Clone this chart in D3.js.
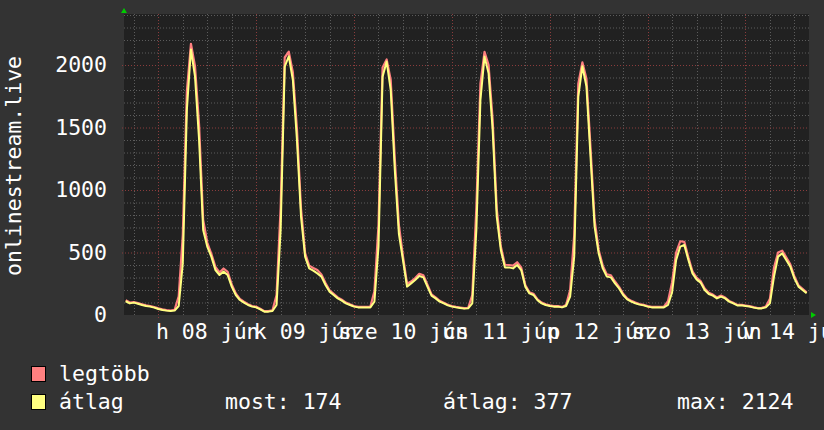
<!DOCTYPE html>
<html>
<head>
<meta charset="utf-8">
<script src="https://cdn.jsdelivr.net/npm/d3@7"></script>
<style>
  body { margin: 0; background: #333333; }
  svg { display: block; }
  text { font-family: "DejaVu Sans Mono", monospace; font-size: 21.5px; fill: #ffffff; }
</style>
</head>
<body>
<svg width="824" height="430"></svg>
<script>
// hourly values, 2020-06-07 16:00 .. 2020-06-14 15:00 (UTC)
const atlag = [
  110, 93, 99, 90, 80, 72, 67, 59,
  48, 40, 35, 32, 35, 72, 413, 1640, 2124, 1907, 1400, 680, 547, 467, 360, 320, 347, 320, 227, 160, 120, 99, 80, 67,
  61, 45, 27, 27, 32, 80, 680, 1987, 2070, 1880, 1400, 787, 467, 373, 355, 333, 307, 240, 187, 160, 133, 115, 93, 80,
  67, 61, 61, 61, 61, 107, 547, 1907, 2027, 1800, 1160, 650, 440, 227, 253, 280, 312, 301, 227, 155, 133, 107, 93, 77,
  67, 61, 56, 51, 53, 93, 680, 1720, 2067, 1933, 1480, 787, 520, 381, 381, 373, 400, 360, 227, 173, 160, 118, 93, 80,
  72, 67, 67, 61, 72, 147, 467, 1747, 1990, 1827, 1267, 707, 493, 373, 307, 301, 253, 213, 160, 125, 107, 93, 83, 77,
  67, 61, 61, 61, 61, 80, 180, 440, 547, 560, 440, 333, 285, 259, 200, 168, 155, 133, 147, 133, 107, 93, 77, 77,
  72, 67, 59, 53, 53, 61, 93, 307, 467, 493, 440, 387, 293, 227, 200, 174
]
const legtobb = [
  118, 100, 104, 95, 86, 77, 72, 64,
  53, 45, 39, 36, 42, 150, 640, 1790, 2170, 1990, 1520, 760, 580, 490, 385, 340, 372, 345, 245, 172, 128, 106, 86, 72,
  66, 50, 31, 31, 38, 160, 860, 2060, 2107, 1940, 1490, 850, 495, 395, 376, 360, 325, 256, 198, 170, 141, 122, 99, 85,
  72, 65, 65, 65, 66, 190, 720, 1980, 2045, 1880, 1250, 720, 470, 250, 268, 296, 330, 318, 242, 165, 141, 114, 99, 82,
  72, 65, 60, 55, 58, 160, 860, 1850, 2105, 2000, 1560, 850, 550, 402, 400, 395, 422, 380, 240, 182, 170, 125, 99, 85,
  77, 71, 71, 65, 80, 200, 640, 1850, 2021, 1890, 1340, 760, 520, 395, 325, 318, 268, 225, 170, 132, 113, 99, 88, 82,
  71, 65, 65, 65, 66, 110, 260, 500, 590, 585, 462, 350, 300, 272, 211, 177, 163, 140, 156, 140, 113, 98, 81, 81,
  76, 71, 63, 56, 57, 68, 130, 380, 500, 515, 462, 405, 308, 238, 210, 182
]
const napok = ["h 08 jún", "k 09 jún", "sze 10 jún", "cs 11 jún", "p 12 jún", "szo 13 jún", "v 14 jún"]
const yTicks = [0, 500, 1000, 1500, 2000]
const stats = [["most:", 174], ["átlag:", 377], ["max:", 2124]]

const elso = Date.UTC(2020, 5, 7, 16)
const ora = 3600 * 1000
const ido = atlag.map((v, i) => new Date(elso + i * ora))

const svg = d3.select("svg")
const bal = 124, jobb = 809, fent = 14, lent = 315

const x = d3.scaleUtc()
  .domain([new Date(Date.UTC(2020, 5, 7, 15, 35)), new Date(Date.UTC(2020, 5, 14, 15, 35))])
  .range([bal, jobb])
const y = d3.scaleLinear()
  .domain([0, (lent - fent) * 8])
  .range([lent, fent])

svg.append("rect")
  .attr("x", bal).attr("y", fent)
  .attr("width", jobb - bal).attr("height", lent - fent)
  .attr("fill", "#212121")

// grid
const grid = svg.append("g")
grid.selectAll(".hmin")
  .data(d3.range(100, 2500, 100).filter(v => v % 500 !== 0))
  .enter().append("line")
  .attr("x1", bal).attr("x2", jobb)
  .attr("y1", d => y(d) + 0.5).attr("y2", d => y(d) + 0.5)
  .attr("stroke", "#5c5c5c").attr("stroke-dasharray", "1,2")
grid.selectAll(".vmin")
  .data(d3.utcHour.every(6).range(x.domain()[0], x.domain()[1]).filter(d => d.getUTCHours() !== 0))
  .enter().append("line")
  .attr("x1", d => Math.round(x(d)) + 0.5).attr("x2", d => Math.round(x(d)) + 0.5)
  .attr("y1", fent).attr("y2", lent + 2)
  .attr("stroke", "#5c5c5c").attr("stroke-dasharray", "1,2")
grid.selectAll(".hmaj")
  .data(yTicks.slice(1))
  .enter().append("line")
  .attr("x1", bal - 2).attr("x2", jobb)
  .attr("y1", d => y(d) + 0.5).attr("y2", d => y(d) + 0.5)
  .attr("stroke", "#8a3c3c").attr("stroke-dasharray", "1,2")
grid.selectAll(".vmaj")
  .data(d3.utcDay.range(x.domain()[0], x.domain()[1]))
  .enter().append("line")
  .attr("x1", d => Math.round(x(d)) + 0.5).attr("x2", d => Math.round(x(d)) + 0.5)
  .attr("y1", fent).attr("y2", lent + 3)
  .attr("stroke", "#8a3c3c").attr("stroke-dasharray", "1,2")

svg.append("clipPath").attr("id", "clip")
  .append("rect").attr("x", bal).attr("y", fent).attr("width", jobb - bal).attr("height", lent - fent)

const vonal = d3.line()
  .x((d, i) => x(ido[i]))
  .y(d => y(d))

svg.append("path")
  .datum(legtobb)
  .attr("clip-path", "url(#clip)")
  .attr("fill", "none").attr("stroke", "#ff8080").attr("stroke-width", 2.2)
  .attr("stroke-linejoin", "round")
  .attr("d", vonal)
svg.append("path")
  .datum(atlag)
  .attr("clip-path", "url(#clip)")
  .attr("fill", "none").attr("stroke", "#ffff80").attr("stroke-width", 2)
  .attr("stroke-linejoin", "round")
  .attr("d", vonal)

// axes
const yAxis = svg.append("g")
  .attr("transform", `translate(${bal},0)`)
  .call(d3.axisLeft(y).tickValues(yTicks).tickFormat(d3.format("d")).tickSize(0).tickPadding(17))
yAxis.select(".domain").remove()
yAxis.selectAll("text").attr("font-size", null).attr("font-family", null)

const delek = napok.map((n, i) => new Date(Date.UTC(2020, 5, 8 + i, 12)))
const xAxis = svg.append("g")
  .attr("transform", `translate(0,${lent})`)
  .call(d3.axisBottom(x).tickValues(delek).tickFormat((d, i) => napok[i]).tickSize(0).tickPadding(9))
xAxis.select(".domain").remove()
xAxis.selectAll("text").attr("font-size", null).attr("font-family", null)

// arrows
svg.append("path").attr("d", `M${bal - 3},13 L${bal + 3},13 L${bal},8 Z`).attr("fill", "#00cc00")
svg.append("path").attr("d", `M${jobb + 2},${lent - 3} L${jobb + 2},${lent + 3} L${jobb + 7},${lent} Z`).attr("fill", "#00cc00")

// title
svg.append("text")
  .attr("transform", "translate(21,166) rotate(-90)")
  .attr("text-anchor", "middle")
  .text("onlinestream.live")

// legend
const legend = [["legtöbb", "#ff8080"], ["átlag", "#ffff80"]]
legend.forEach(([nev, szin], i) => {
  svg.append("rect")
    .attr("x", 31.5).attr("y", 366.5 + i * 28)
    .attr("width", 14).attr("height", 15)
    .attr("fill", szin).attr("stroke", "#000")
  svg.append("text")
    .attr("x", 59).attr("y", 381 + i * 28)
    .text(nev)
})
const statX = [225, 443, 677]
stats.forEach(([nev, ertek], i) => {
  svg.append("text")
    .attr("x", statX[i]).attr("y", 409)
    .text(`${nev} ${ertek}`)
})
</script>
</body>
</html>
